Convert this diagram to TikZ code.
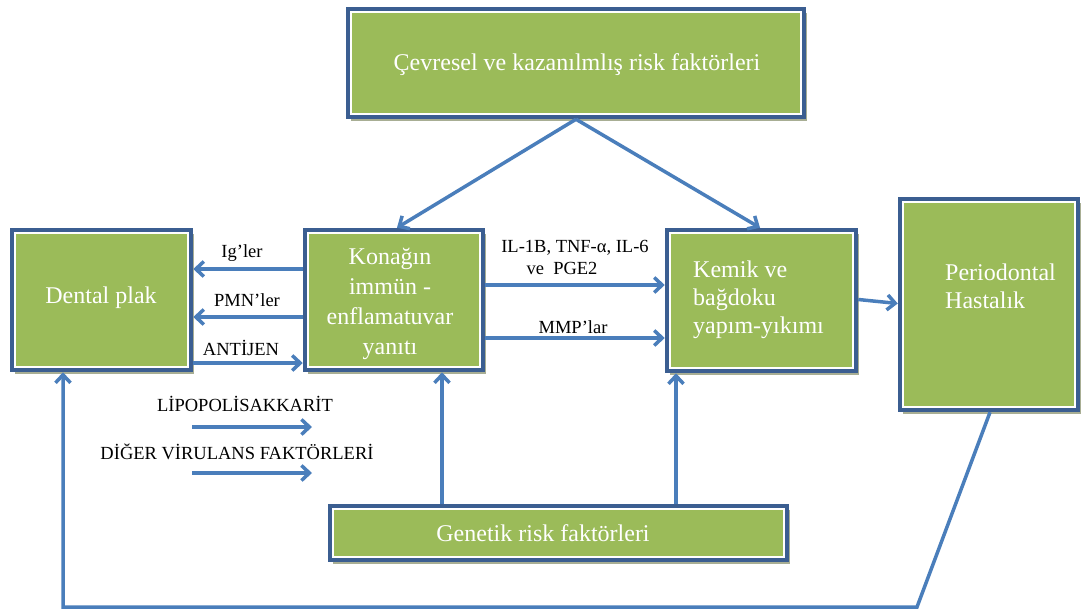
\documentclass[tikz,border=0pt]{standalone}
\usepackage{fontspec}
\setmainfont{Liberation Serif}
\usetikzlibrary{arrows.meta,calc,shadows}
\definecolor{boxblue}{RGB}{59,94,145}
\definecolor{boxgreen}{RGB}{155,187,89}
\definecolor{arrblue}{RGB}{74,126,187}
\definecolor{shadowgray}{RGB}{168,174,148}
\tikzset{
  box/.style={draw=boxblue, line width=4.5pt, fill=white, inner sep=0pt,
    drop shadow={shadow xshift=3pt, shadow yshift=-4pt, fill=shadowgray, opacity=1},
    path picture={\fill[boxgreen] ($(path picture bounding box.south west)+(4,-4)$) rectangle ($(path picture bounding box.north east)+(-4,4)$);}},
  boxtext/.style={text=white, font=\fontsize{24}{28}\selectfont, inner sep=0pt},
  lbl/.style={text=black, font=\fontsize{18.5}{21}\selectfont, inner sep=0pt},
  arr/.style={draw=arrblue, line width=3.5pt, -{Straight Barb[length=8pt,width=15pt]}},
}
\begin{document}
\begin{tikzpicture}[x=1pt,y=-1pt]
\useasboundingbox (0,0) rectangle (1081,610);
% boxes
\node[box, minimum width=456pt, minimum height=108pt] (top) at (576,63) {};
\node[box, minimum width=179pt, minimum height=140pt] (dental) at (101.5,300) {};
\node[box, minimum width=178pt, minimum height=140pt] (konak) at (394,300) {};
\node[box, minimum width=189pt, minimum height=141pt] (kemik) at (761.5,300.5) {};
\node[box, minimum width=178pt, minimum height=211pt] (perio) at (989,304.5) {};
\node[box, minimum width=457pt, minimum height=54pt] (genetik) at (558.5,533) {};
% box texts
\node[boxtext] (ttop) at (577,65) {Çevresel ve kazanılmlış risk faktörleri};
\node[boxtext] (tdental) at (101,298) {Dental plak};
\node[boxtext, align=center, font=\fontsize{24}{30}\selectfont] (tkonak) at (390,304) {Konağın\\immün -\\enflamatuvar\\yanıtı};
\node[boxtext, align=left, anchor=west] (tkemik) at (693,300) {Kemik ve\\bağdoku\\yapım-yıkımı};
\node[boxtext, align=left, anchor=west] (tperio) at (945,286) {Periodontal\\Hastalık};
\node[boxtext] (tgen) at (543,533) {Genetik risk faktörleri};
% labels
\node[lbl] (lig) at (242,253) {Ig’ler};
\node[lbl] (lpmn) at (247,300) {PMN’ler};
\node[lbl] (lant) at (241,348) {ANTİJEN};
\node[lbl] (lil) at (575,248) {IL-1B, TNF-α, IL-6};
\node[lbl] (lpge) at (562,268) {ve\ \ PGE2};
\node[lbl] (lmmp) at (573,327) {MMP’lar};
\node[lbl] (llps) at (245,404) {LİPOPOLİSAKKARİT};
\node[lbl] (lvir) at (237,452) {DİĞER VİRULANS FAKTÖRLERİ};
% coordinates
\coordinate (igA) at ($(konak.west)+(0,-31)$);
\coordinate (pmnA) at ($(konak.west)+(0,17)$);
\coordinate (antA) at ($(dental.east)+(0,63)$);
\coordinate (ilA) at ($(konak.east)+(0,-15)$);
\coordinate (mmpA) at ($(konak.east)+(0,38)$);
\coordinate (lpsA) at (192,427);
\coordinate (lpsB) at (312,427);
\coordinate (virA) at (192,473);
\coordinate (virB) at (312,473);
\coordinate (gk) at (442,0);
\coordinate (gm) at (676,0);
\coordinate (tk) at (397,0);
\coordinate (tm) at (760,0);
\coordinate (loop1) at (917,607);
\coordinate (loop2) at (63,607);
\coordinate (pb) at (990,0);
% connectors
\draw[arr] (top.south) -- (tk |- konak.north);
\draw[arr] (top.south) -- (tm |- kemik.north);
\draw[arr] (igA) -- (igA -| dental.east);
\draw[arr] (pmnA) -- (pmnA -| dental.east);
\draw[arr] (antA) -- (antA -| konak.west);
\draw[arr] (ilA) -- (ilA -| kemik.west);
\draw[arr] (mmpA) -- (mmpA -| kemik.west);
\draw[arr] (lpsA) -- (lpsB);
\draw[arr] (virA) -- (virB);
\draw[arr] (gk |- genetik.north) -- (gk |- konak.south);
\draw[arr] (gm |- genetik.north) -- (gm |- kemik.south);
\draw[arr] ($(kemik.east)+(0,-1)$) -- ($(perio.west)+(0,-1)$);
\draw[arr, line join=miter] (pb |- perio.south) -- (loop1) -- (loop2) -- (loop2 |- dental.south);
\end{tikzpicture}
\end{document}
